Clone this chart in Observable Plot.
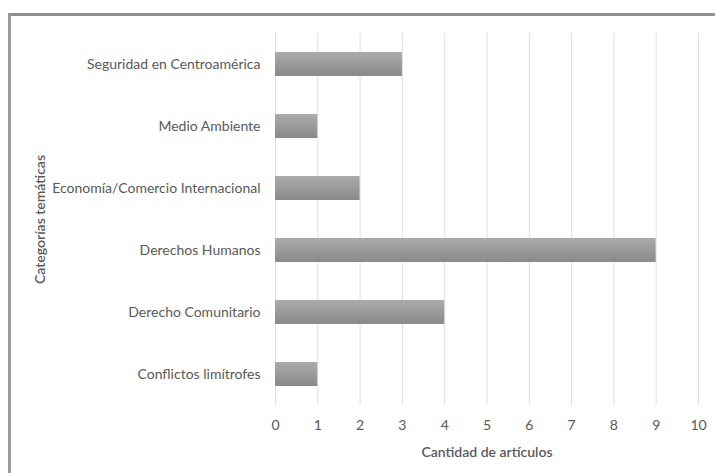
<!DOCTYPE html>
<html>
<head>
<meta charset="utf-8">
<script src="https://cdn.jsdelivr.net/npm/d3@7"></script>
<script src="https://cdn.jsdelivr.net/npm/@observablehq/plot@0.6"></script>
<style>
  html, body { margin: 0; padding: 0; background: #fff; }
  #wrap { position: relative; width: 715px; height: 473px; overflow: hidden; }
  #frame { position: absolute; left: 8px; top: 13px; width: 800px; height: 600px;
           border-left: 3px solid #9a9a9a; border-top: 3px solid #8f8f8f; box-sizing: border-box; }
  #chart { position: absolute; left: 0; top: 0; }
</style>
</head>
<body>
<div id="wrap"><div id="frame"></div><div id="chart"></div></div>
<script>
const categories = [
  "Seguridad en Centroamérica",
  "Medio Ambiente",
  "Economía/Comercio Internacional",
  "Derechos Humanos",
  "Derecho Comunitario",
  "Conflictos limítrofes"
];
const counts = [3, 1, 2, 9, 4, 1];
const xTicks = [0, 1, 2, 3, 4, 5, 6, 7, 8, 9, 10];
const xTitle = "Cantidad de artículos";
const yTitle = "Categorías temáticas";

const data = categories.map((c, i) => ({category: c, value: counts[i]}));

const svg = Plot.plot({
  width: 715,
  height: 473,
  marginLeft: 275,
  marginRight: 17,
  marginTop: 33,
  marginBottom: 68,
  style: {fontFamily: "Lato, sans-serif", fontSize: "14px", color: "#595959", background: "transparent"},
  x: {domain: [0, 10], ticks: xTicks},
  y: {domain: categories, paddingInner: 0.613, paddingOuter: 0.3065},
  marks: [
    Plot.gridX(xTicks, {stroke: "#dedede", strokeOpacity: 1, strokeWidth: 1}),
    Plot.barX(data, {x: "value", y: "category", fill: "url(#barGrad)"}),
    Plot.axisX({ticks: xTicks, tickSize: 0, tickPadding: 15, label: null, fontSize: 14, fill: "#595959"}),
    Plot.axisY({tickSize: 0, tickPadding: 15, label: null, fontSize: 14, fill: "#595959"}),
    Plot.text([xTitle], {frameAnchor: "bottom", dy: 51, fontSize: 14, fontWeight: 600, fill: "#595959"}),
    Plot.text([yTitle], {frameAnchor: "left", dx: -235, rotate: -90, textAnchor: "middle", fontSize: 14, fontWeight: 600, fill: "#595959"})
  ]
});

const defs = d3.select(svg).insert("defs", ":first-child");
const g = defs.append("linearGradient").attr("id", "barGrad")
  .attr("x1", 0).attr("y1", 0).attr("x2", 0).attr("y2", 1);
g.append("stop").attr("offset", "0%").attr("stop-color", "#ababab");
g.append("stop").attr("offset", "100%").attr("stop-color", "#8a8a8a");

document.getElementById("chart").appendChild(svg);
</script>
</body>
</html>
